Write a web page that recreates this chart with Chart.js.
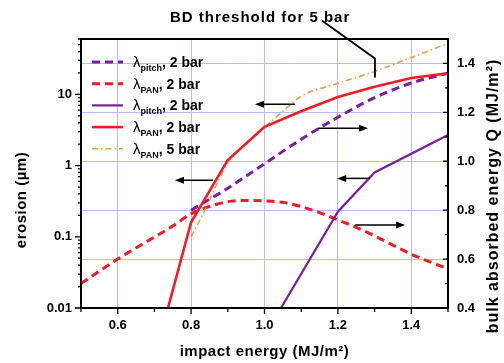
<!DOCTYPE html>
<html>
<head>
<meta charset="utf-8">
<script src="https://cdn.jsdelivr.net/npm/chart.js@4.4.0/dist/chart.umd.min.js"></script>
<style>
html, body { margin: 0; padding: 0; background: #fff; }
</style>
</head>
<body>
<canvas id="erosionChart" width="504" height="363"></canvas>
<script>
'use strict';

// bulk absorbed energy Q (right axis, MJ/m2) vs impact energy
var qPitchE   = [0.8, 0.9, 1.0, 1.1, 1.2, 1.3, 1.4, 1.5];
var qPitch2   = [0.80, 0.89, 0.99, 1.09, 1.18, 1.26, 1.32, 1.36];
var qPanE     = [0.5, 0.6, 0.7, 0.75, 0.8, 0.85, 0.9, 0.95, 1.0, 1.05, 1.1, 1.15, 1.2, 1.25, 1.3, 1.4, 1.5];
var qPan2     = [0.50, 0.60, 0.69, 0.735, 0.785, 0.815, 0.835, 0.84, 0.838, 0.832, 0.815, 0.79, 0.76, 0.73, 0.695, 0.62, 0.56];

// erosion (left axis, um) vs impact energy
var ePitchE   = [1.045, 1.2, 1.3, 1.5];
var ePitch2   = [0.01, 0.225, 0.8, 2.7];
var ePanE     = [0.737, 0.8, 0.9, 1.0, 1.1, 1.2, 1.3, 1.4, 1.5];
var ePan2     = [0.01, 0.16, 1.2, 3.5, 5.8, 9.2, 12.8, 17, 19.8];
var ePan5E    = [0.8, 0.84, 0.87, 0.9, 0.95, 1.0, 1.05, 1.1, 1.2, 1.3, 1.4, 1.5];
var ePan5     = [0.1, 0.25, 0.55, 1.1, 2.0, 3.4, 5.8, 9.4, 14.3, 21, 33, 52];

// tick labels
var xTicks = [0.6, 0.8, 1.0, 1.2, 1.4];
var eTicks = [0.01, 0.1, 1, 10];
var qTicks = [0.4, 0.6, 0.8, 1.0, 1.2, 1.4];

// legend text (same order as datasets)
var legendSub  = ['pitch', 'PAN', 'pitch', 'PAN', 'PAN'];
var legendBar  = [', 2 bar', ', 2 bar', ', 2 bar', ', 2 bar', ', 5 bar'];

// arrows: from x0 to x1 (impact energy) at height q (right axis units)
var arrows = [
  { x0: 1.083, x1: 0.974, q: 1.233 },
  { x0: 0.860, x1: 0.756, q: 0.922 },
  { x0: 1.146, x1: 1.282, q: 1.135 },
  { x0: 1.287, x1: 1.198, q: 0.930 },
  { x0: 1.247, x1: 1.383, q: 0.739 }
];
var bdText = 'BD threshold for 5 bar';

var FONT = '"Liberation Sans", Arial, Helvetica, sans-serif';
var gridBlue = 'rgb(185,185,245)';
var purple = 'rgb(120,30,160)';
var red = 'rgb(245,25,35)';
var orange = 'rgb(228,160,70)';

function pts(xs, ys) {
  return xs.map(function (x, i) { return { x: x, y: ys[i] }; });
}

var extras = {
  id: 'extras',
  afterDatasetsDraw: function (chart) {
    var ctx = chart.ctx, a = chart.chartArea;
    var xs = chart.scales.x, ys = chart.scales.y, qs = chart.scales.q;
    ctx.save();

    // arrows
    ctx.strokeStyle = '#000';
    ctx.fillStyle = '#000';
    ctx.lineWidth = 1.5;
    arrows.forEach(function (ar) {
      var px0 = xs.getPixelForValue(ar.x0), px1 = xs.getPixelForValue(ar.x1);
      var py = qs.getPixelForValue(ar.q);
      var dir = px1 > px0 ? 1 : -1;
      ctx.beginPath();
      ctx.moveTo(px0, py);
      ctx.lineTo(px1 - dir * 6, py);
      ctx.stroke();
      ctx.beginPath();
      ctx.moveTo(px1, py);
      ctx.lineTo(px1 - dir * 9, py - 3.5);
      ctx.lineTo(px1 - dir * 9, py + 3.5);
      ctx.closePath();
      ctx.fill();
    });

    // BD threshold pointer
    ctx.lineWidth = 1.8;
    ctx.beginPath();
    ctx.moveTo(xs.getPixelForValue(1.157), qs.getPixelForValue(1.575));
    ctx.lineTo(xs.getPixelForValue(1.301), qs.getPixelForValue(1.42));
    ctx.lineTo(xs.getPixelForValue(1.301), qs.getPixelForValue(1.343));
    ctx.stroke();
    ctx.font = 'bold 15px ' + FONT;
    ctx.letterSpacing = '1px';
    ctx.textAlign = 'center';
    ctx.textBaseline = 'middle';
    ctx.fillText(bdText, xs.getPixelForValue(0.988), qs.getPixelForValue(1.588));
    ctx.letterSpacing = '0px';

    // legend
    var lx = a.left + 11, ly = a.top + 23;
    chart.data.datasets.forEach(function (ds, i) {
      var y = ly + i * 21.7;
      ctx.strokeStyle = ds.borderColor;
      ctx.lineWidth = ds.borderWidth;
      ctx.setLineDash(ds.borderDash || []);
      ctx.beginPath();
      ctx.moveTo(lx, y);
      ctx.lineTo(lx + 31, y);
      ctx.stroke();
      ctx.setLineDash([]);
      ctx.fillStyle = '#000';
      ctx.textAlign = 'left';
      ctx.textBaseline = 'alphabetic';
      var tx = lx + 41;
      ctx.font = '15px ' + FONT;
      ctx.fillText('\u03bb', tx, y + 5);
      tx += ctx.measureText('\u03bb').width;
      ctx.font = 'bold 9px ' + FONT;
      ctx.fillText(legendSub[i], tx, y + 9);
      tx += ctx.measureText(legendSub[i]).width;
      ctx.font = 'bold 14px ' + FONT;
      ctx.fillText(legendBar[i], tx, y + 5);
    });

    // frame
    ctx.strokeStyle = '#000';
    ctx.lineWidth = 2;
    ctx.strokeRect(a.left, a.top, a.right - a.left, a.bottom - a.top);

    // tick marks
    ctx.lineWidth = 1.3;
    ctx.beginPath();
    for (var n = -2; n <= 1; n++) {
      for (var k = 1; k <= 9; k++) {
        var v = k * Math.pow(10, n);
        if (v > ys.max) continue;
        var py = ys.getPixelForValue(v);
        ctx.moveTo(a.left, py);
        ctx.lineTo(a.left - (k === 1 ? 6 : 3), py);
      }
    }
    for (var i = 5; i <= 15; i++) {
      var px = xs.getPixelForValue(i / 10);
      ctx.moveTo(px, a.bottom);
      ctx.lineTo(px, a.bottom + (i % 2 === 0 ? 6 : 4));
      var qy = qs.getPixelForValue(i / 10);
      if (i >= 4) {
        ctx.moveTo(a.right, qy);
        ctx.lineTo(a.right - (i % 2 === 0 ? 5 : 3), qy);
      }
    }
    var q4 = qs.getPixelForValue(0.4);
    ctx.moveTo(a.right, q4);
    ctx.lineTo(a.right - 5, q4);
    ctx.stroke();

    ctx.restore();
  },
  afterDraw: function (chart) {
    var ctx = chart.ctx, a = chart.chartArea;
    ctx.save();
    ctx.fillStyle = '#000';
    ctx.textAlign = 'center';
    ctx.textBaseline = 'middle';
    ctx.font = 'bold 15px ' + FONT;
    ctx.letterSpacing = '0.5px';
    ctx.fillText('impact energy (MJ/m\u00b2)', (a.left + a.right) / 2, 352);

    ctx.save();
    ctx.translate(22, 200);
    ctx.rotate(-Math.PI / 2);
    ctx.fillText('erosion (\u00b5m)', 0, 0);
    ctx.restore();

    ctx.save();
    ctx.translate(494, 196);
    ctx.rotate(-Math.PI / 2);
    ctx.font = 'bold 16px ' + FONT;
    ctx.letterSpacing = '1px';
    ctx.fillText('bulk absorbed energy Q (MJ/m\u00b2)', 0, 0);
    ctx.restore();
    ctx.restore();
  }
};

var tickFont = { family: FONT, size: 13, weight: 'bold' };

var config = {
  type: 'line',
  data: {
    datasets: [{
      label: 'pitch 2 bar Q',
      data: pts(qPitchE, qPitch2),
      yAxisID: 'q',
      borderColor: purple,
      borderWidth: 3,
      borderDash: [8, 5],
      cubicInterpolationMode: 'monotone',
      order: 4
    }, {
      label: 'PAN 2 bar Q',
      data: pts(qPanE, qPan2),
      yAxisID: 'q',
      borderColor: red,
      borderWidth: 3,
      borderDash: [8, 5],
      cubicInterpolationMode: 'monotone',
      order: 3
    }, {
      label: 'pitch 2 bar erosion',
      data: pts(ePitchE, ePitch2),
      yAxisID: 'y',
      borderColor: purple,
      borderWidth: 2.2,
      order: 2
    }, {
      label: 'PAN 2 bar erosion',
      data: pts(ePanE, ePan2),
      yAxisID: 'y',
      borderColor: red,
      borderWidth: 2.6,
      order: 0
    }, {
      label: 'PAN 5 bar erosion',
      data: pts(ePan5E, ePan5),
      yAxisID: 'y',
      borderColor: orange,
      borderWidth: 1.6,
      borderDash: [6, 3, 1.5, 3],
      cubicInterpolationMode: 'monotone',
      order: 1
    }]
  },
  options: {
    responsive: false,
    animation: false,
    layout: { padding: { top: 39, left: 0, right: 0, bottom: 0 } },
    elements: { point: { radius: 0 }, line: { fill: false } },
    plugins: { legend: { display: false }, tooltip: { enabled: false } },
    scales: {
      x: {
        type: 'linear', min: 0.5, max: 1.5,
        afterBuildTicks: function (s) { s.ticks = xTicks.map(function (v) { return { value: v }; }); },
        afterFit: function (s) { s.height = 55; },
        grid: { color: gridBlue, lineWidth: 1, drawTicks: false },
        border: { display: false },
        ticks: { padding: 10, color: '#000', font: tickFont, maxRotation: 0, autoSkip: false,
          callback: function (v) { return Number(v).toFixed(1); } }
      },
      y: {
        type: 'logarithmic', position: 'left', min: 0.01, max: 60,
        afterBuildTicks: function (s) { s.ticks = eTicks.map(function (v) { return { value: v }; }); },
        afterFit: function (s) { s.width = 81; },
        grid: { display: false, drawTicks: false },
        border: { display: false },
        ticks: { padding: 9, color: '#000', font: tickFont, autoSkip: false,
          callback: function (v) { return String(v); } }
      },
      q: {
        type: 'linear', position: 'right', min: 0.4, max: 1.5,
        afterBuildTicks: function (s) { s.ticks = qTicks.map(function (v) { return { value: v }; }); },
        afterFit: function (s) { s.width = 56; },
        grid: { color: gridBlue, lineWidth: 1, drawTicks: false },
        border: { display: false },
        ticks: { padding: 9, color: '#000', font: tickFont, autoSkip: false,
          callback: function (v) { return Number(v).toFixed(1); } }
      }
    }
  },
  plugins: [extras]
};

var erosionChart = new Chart(document.getElementById('erosionChart').getContext('2d'), config);
</script>
</body>
</html>
